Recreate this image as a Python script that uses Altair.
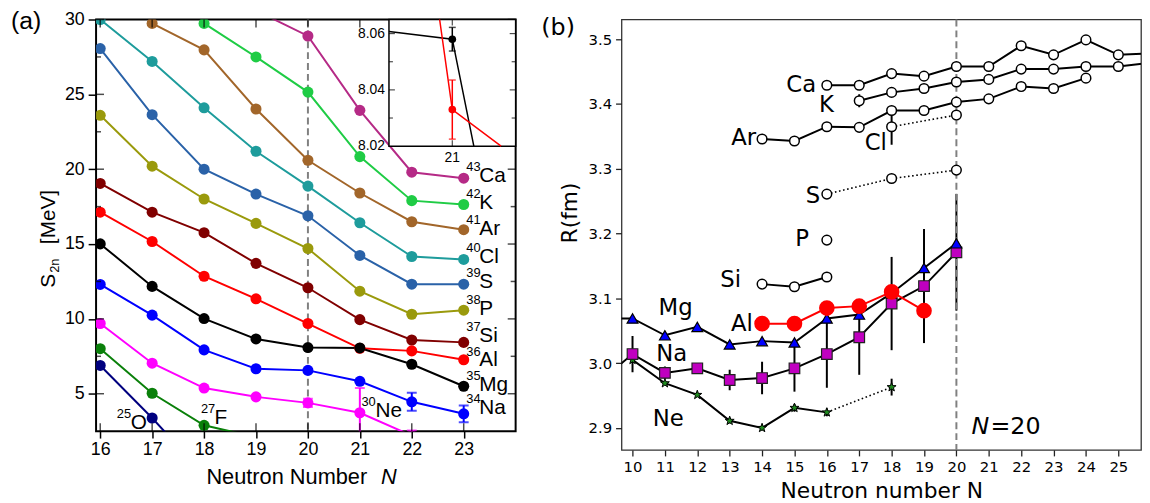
import altair as alt
import pandas as pd

# ================= Panel (a): S2n [MeV] vs neutron number =================
a_chains = ["Ca", "K", "Ar", "Cl", "S", "P", "Si", "Al", "Mg", "Na", "Ne", "F", "O"]
a_colors = ["#b52a86", "#1fcc45", "#a2662a", "#1e9c9c", "#2a62a8", "#9a9a0c",
            "#800000", "#ff0000", "#000000", "#0000ff", "#ff00ff", "#0a800a", "#00007f"]

ca_N = [19, 20, 21, 22, 23]
ca_S = [30.6, 28.9, 23.93, 19.8, 19.4]
k_N = [18, 19, 20, 21, 22, 23]
k_S = [29.74, 27.5, 25.15, 20.84, 17.9, 17.64]
ar_N = [17, 18, 19, 20, 21, 22, 23]
ar_S = [29.74, 27.97, 24.02, 20.6, 18.41, 16.49, 15.96]
cl_N = [16, 17, 18, 19, 20, 21, 22, 23]
cl_S = [30.0, 27.2, 24.1, 21.2, 18.87, 16.42, 14.17, 13.97]
s_N = [16, 17, 18, 19, 20, 21, 22, 23]
s_S = [28.06, 23.64, 20.0, 18.34, 16.89, 14.24, 12.32, 12.32]
p_N = [16, 17, 18, 19, 20, 21, 22, 23]
p_S = [23.6, 20.2, 18.01, 16.38, 14.7, 11.85, 10.31, 10.58]
si_N = [16, 17, 18, 19, 20, 21, 22, 23]
si_S = [19.05, 17.13, 15.76, 13.71, 12.08, 9.95, 8.59, 8.43]
al_N = [16, 17, 18, 19, 20, 21, 22, 23]
al_S = [17.13, 15.17, 12.85, 11.34, 9.69, 8.033, 7.863, 7.27]
mg_N = [16, 17, 18, 19, 20, 21, 22, 23]
mg_S = [15.01, 12.17, 10.02, 8.66, 8.085, 8.058, 6.97, 5.5]
na_N = [16, 17, 18, 19, 20, 21, 22, 23]
na_S = [12.3, 10.25, 7.93, 6.67, 6.56, 5.83, 4.46, 3.66]
na_err = [0, 0, 0, 0, 0, 0, 0.6, 0.56]
ne_N = [16, 17, 18, 19, 20, 21, 22]
ne_S = [9.69, 7.04, 5.38, 4.79, 4.39, 3.73, 2.2]
ne_err = [0, 0, 0, 0, 0.27, 1.65, 0.35]
f_N = [16, 17, 18, 19]
f_S = [8.01, 5.03, 2.89, 2.1]
o_N = [16, 17, 18]
o_S = [6.89, 3.38, -0.4]

a_series = {"Ca": (ca_N, ca_S), "K": (k_N, k_S), "Ar": (ar_N, ar_S), "Cl": (cl_N, cl_S),
            "S": (s_N, s_S), "P": (p_N, p_S), "Si": (si_N, si_S), "Al": (al_N, al_S),
            "Mg": (mg_N, mg_S), "Na": (na_N, na_S), "Ne": (ne_N, ne_S), "F": (f_N, f_S),
            "O": (o_N, o_S)}
a_errs = {"Na": na_err, "Ne": ne_err}

# labels (mass number superscript + element)
a_lab_mass = ["43", "42", "41", "40", "39", "38", "37", "36", "35", "34", "25", "27", "30"]
a_lab_el = ["Ca", "K", "Ar", "Cl", "S", "P", "Si", "Al", "Mg", "Na", "O", "F", "Ne"]
a_lab_xsup = [23.05] * 10 + [16.32, 17.94, 21.03]
a_lab_xel = [23.3] * 10 + [16.59, 18.2, 21.3]
a_lab_y = [19.54, 17.75, 16.03, 14.11, 12.45, 10.66, 8.87, 7.22, 5.56, 4.04, 3.05, 3.38, 3.84]

a_xticks = [16, 17, 18, 19, 20, 21, 22, 23]
a_yticks = [5, 10, 15, 20, 25, 30]
a_yminor = [7.5, 12.5, 17.5, 22.5, 27.5]
a_xdom = [15.92, 24.0]
a_ydom = [2.5, 30.0]

# inset (zoom around N = 21)
ins_mg_N = [20.9, 21.0, 21.034]
ins_mg_S = [8.0607, 8.058, 8.02]
ins_al_N = [20.98, 21.0, 21.077]
ins_al_S = [8.065, 8.033, 8.02]
ins_pt_series = ["Mg", "Al"]
ins_pt_N = [21.0, 21.0]
ins_pt_S = [8.058, 8.033]
ins_pt_err = [0.0042, 0.0105]
ins_xdom = [20.9, 21.1]
ins_ydom = [8.02, 8.065]
ins_yticks = [8.02, 8.04, 8.06]
ins_yminor = [8.03, 8.05]
ins_xticks = [21]

# ================= Panel (b): charge radii =================
b_ca_N = [16, 17, 18, 19, 20, 21, 22, 23, 24, 25, 26]
b_ca_R = [3.429, 3.429, 3.447, 3.443, 3.458, 3.458, 3.490, 3.476, 3.499, 3.476, 3.478]
b_k_N = [17, 18, 19, 20, 21, 22, 23, 24, 25, 26]
b_k_R = [3.405, 3.418, 3.424, 3.434, 3.438, 3.454, 3.454, 3.458, 3.458, 3.464]
b_k_err = [0.01, 0, 0, 0, 0, 0, 0, 0, 0, 0]
b_ar_N = [14, 15, 16, 17, 18, 19, 20, 21, 22, 23, 24]
b_ar_R = [3.346, 3.343, 3.365, 3.364, 3.390, 3.390, 3.403, 3.408, 3.427, 3.424, 3.440]
b_cl_N = [18, 20]
b_cl_R = [3.365, 3.383]
b_cl_err = [0.028, 0]
b_s_N = [16, 18, 20]
b_s_R = [3.261, 3.285, 3.298]
b_p_N = [16]
b_p_R = [3.19]
b_si_N = [14, 15, 16]
b_si_R = [3.122, 3.118, 3.133]
b_al_N = [14, 15, 16, 17, 18, 19]
b_al_R = [3.061, 3.061, 3.085, 3.088, 3.110, 3.081]
b_mg_N = [9, 10, 11, 12, 13, 14, 15, 16, 17, 18, 19, 20]
b_mg_R = [3.069, 3.069, 3.043, 3.056, 3.029, 3.034, 3.032, 3.069, 3.075, 3.108, 3.147, 3.185]
b_na_N = [9, 10, 11, 12, 13, 14, 15, 16, 17, 18, 19, 20]
b_na_R = [2.972, 3.014, 2.985, 2.992, 2.974, 2.977, 2.992, 3.014, 3.040, 3.092, 3.119, 3.171]
b_na_err = [0, 0.028, 0.01, 0, 0.016, 0.025, 0.036, 0.052, 0.058, 0.072, 0.088, 0.09]
b_ne_N = [10, 11, 12, 13, 14, 15, 16, 18]
b_ne_R = [3.005, 2.969, 2.951, 2.911, 2.900, 2.931, 2.924, 2.963]
b_ne_err = [0, 0, 0, 0.004, 0.004, 0.006, 0.006, 0.013]

b_lab_text = ["Ca", "K", "Ar", "Cl", "S", "P", "Si", "Al", "Mg", "Na", "Ne"]
b_lab_N = [15.21, 15.99, 13.43, 17.51, 15.57, 15.24, 13.03, 13.38, 11.33, 11.21, 11.10]
b_lab_R = [3.429, 3.398, 3.347, 3.340, 3.258, 3.191, 3.128, 3.061, 3.085, 3.014, 2.913]

b_xticks = list(range(10, 26))
b_yticks = [2.9, 3.0, 3.1, 3.2, 3.3, 3.4, 3.5]
b_xdom = [9.66, 25.7]
b_ydom = [2.866, 3.5305]

STAR = ("M0,-1 L0.235,-0.324 L0.951,-0.309 L0.380,0.124 L0.588,0.809 L0,0.4 "
        "L-0.588,0.809 L-0.380,0.124 L-0.951,-0.309 L-0.235,-0.324 Z")

# ---------------- build tables ----------------
rows = []
for ch, (ns, ss) in a_series.items():
    errs = a_errs.get(ch, [0] * len(ns))
    for n, s, e in zip(ns, ss, errs):
        rows.append({"chain": ch, "N": n, "S": s, "err": e, "lo": s - e, "hi": s + e})
a_df = pd.DataFrame(rows)
a_err_df = a_df[a_df["err"] > 0]
a_cap_df = pd.concat([
    a_err_df.assign(S=a_err_df["lo"]), a_err_df.assign(S=a_err_df["hi"])])
a_lab_df = pd.DataFrame({"mass": a_lab_mass, "el": a_lab_el, "xs": a_lab_xsup,
                         "xe": a_lab_xel, "S": a_lab_y})

FA = "Liberation Sans"
xa = alt.Scale(domain=a_xdom)
ya = alt.Scale(domain=a_ydom)
AXA_X = alt.Axis(values=a_xticks, format="d", title="Neutron Number", titleX=111, titleY=53,
                 titleAlign="left", titleBaseline="alphabetic", titleFont=FA, titleFontSize=22,
                 titleFontWeight="normal", titleColor="black", labelFont=FA, labelFontSize=18,
                 labelColor="black", labelFlush=False, labelPadding=3, tickColor="black",
                 tickSize=7, tickWidth=1.5, domain=False, grid=False)
AXA_Y = alt.Axis(values=a_yticks, format="d", title=None, labelFont=FA, labelFontSize=18,
                 labelColor="black", labelPadding=4, tickColor="black", tickSize=8,
                 tickWidth=1.5, domain=False, grid=False)
color_a = alt.Color("chain:N", scale=alt.Scale(domain=a_chains, range=a_colors), legend=None)


def XA(f="N"):
    return alt.X(f"{f}:Q", scale=xa, axis=AXA_X)


def YA(f="S"):
    return alt.Y(f"{f}:Q", scale=ya, axis=AXA_Y)


a_lines = alt.Chart(a_df).mark_line(strokeWidth=2, clip=True).encode(
    x=XA(), y=YA(), color=color_a, detail="chain:N")
a_dash = alt.Chart(pd.DataFrame({"N": [20]})).mark_rule(
    color="#808080", strokeWidth=2, strokeDash=[7, 4]).encode(x=XA())
a_erule = alt.Chart(a_err_df).mark_rule(strokeWidth=2, clip=True).encode(
    x=XA(), y=YA("lo"), y2="hi:Q", color=color_a)
a_caps = alt.Chart(a_cap_df).mark_tick(orient="horizontal", size=10, thickness=2, clip=True).encode(
    x=XA(), y=YA(), color=color_a)
a_pts = alt.Chart(a_df).mark_point(filled=True, size=125, opacity=1, clip=True).encode(
    x=XA(), y=YA(), color=color_a)
a_sup = alt.Chart(a_lab_df).mark_text(align="left", baseline="middle", font=FA, fontSize=13,
                                       dy=-9, color="black").encode(
    x=XA("xs"), y=YA(), text="mass:N")
a_el = alt.Chart(a_lab_df).mark_text(align="left", baseline="middle", font=FA, fontSize=21,
                                      color="black").encode(
    x=XA("xe"), y=YA(), text="el:N")


# inward ticks on the frame of panel (a)
def a_ticks(xs, ys, orient, size, xoff=0, yoff=0):
    df = pd.DataFrame({"N": xs, "S": ys})
    return alt.Chart(df).mark_tick(orient=orient, size=size, thickness=1.5, color="black",
                                   xOffset=xoff, yOffset=yoff).encode(x=XA(), y=YA())


a_tk = [
    a_ticks([a_xdom[0]] * len(a_yticks), a_yticks, "horizontal", 8, xoff=4),
    a_ticks([a_xdom[1]] * len(a_yticks), a_yticks, "horizontal", 8, xoff=-4),
    a_ticks([a_xdom[0]] * len(a_yminor), a_yminor, "horizontal", 5, xoff=2.5),
    a_ticks([a_xdom[1]] * len(a_yminor), a_yminor, "horizontal", 5, xoff=-2.5),
    a_ticks(a_xticks, [a_ydom[1]] * len(a_xticks), "vertical", 8, yoff=4),
    a_ticks(a_xticks, [a_ydom[0]] * len(a_xticks), "vertical", 8, yoff=-4),
]


def note(text, x, y, **kw):
    return alt.Chart(pd.DataFrame({"t": [text]})).mark_text(**kw).encode(
        x=alt.value(x), y=alt.value(y), text="t:N")


a_notes = [
    note("(a)", -86, 10, align="left", baseline="alphabetic", font=FA, fontSize=25, color="black"),
    note("S", -41, 271, angle=270, align="left", baseline="alphabetic", font=FA, fontSize=21, color="black"),
    note("2n", -37, 256, angle=270, align="left", baseline="alphabetic", font=FA, fontSize=13, color="black"),
    note("[MeV]", -41, 227, angle=270, align="left", baseline="alphabetic", font=FA, fontSize=21, color="black"),
    note("N", 288, 469, align="left", baseline="alphabetic", font=FA, fontSize=22,
         fontStyle="italic", color="black"),
]

a_main = alt.layer(a_lines, a_dash, a_erule, a_caps, a_pts, a_sup, a_el, *a_tk, *a_notes)

# ---------------- inset ----------------
xi = alt.Scale(domain=ins_xdom, range=[296, 424])
yi = alt.Scale(domain=ins_ydom, range=[128, 0])


def XI(f="N"):
    return alt.X(f"{f}:Q", scale=xi, axis=None)


def YI(f="S"):
    return alt.Y(f"{f}:Q", scale=yi, axis=None)


ins_frame_df = pd.DataFrame({"N": [ins_xdom[0]], "N2": [ins_xdom[1]],
                             "S": [ins_ydom[0]], "S2": [ins_ydom[1]]})
ins_frame = alt.Chart(ins_frame_df).mark_rect(fill="white", stroke="black", strokeWidth=1.5).encode(
    x=XI(), x2="N2:Q", y=YI(), y2="S2:Q")
ins_mg = alt.Chart(pd.DataFrame({"N": ins_mg_N, "S": ins_mg_S})).mark_line(
    color="black", strokeWidth=1.5).encode(x=XI(), y=YI())
ins_al = alt.Chart(pd.DataFrame({"N": ins_al_N, "S": ins_al_S})).mark_line(
    color="red", strokeWidth=1.5).encode(x=XI(), y=YI())
ins_pdf = pd.DataFrame({"series": ins_pt_series, "N": ins_pt_N, "S": ins_pt_S, "err": ins_pt_err})
ins_pdf["lo"] = ins_pdf["S"] - ins_pdf["err"]
ins_pdf["hi"] = ins_pdf["S"] + ins_pdf["err"]
color_i = alt.Color("series:N", scale=alt.Scale(domain=["Mg", "Al"], range=["black", "red"]),
                    legend=None)
ins_rule = alt.Chart(ins_pdf).mark_rule(strokeWidth=1.5).encode(
    x=XI(), y=YI("lo"), y2="hi:Q", color=color_i)
ins_cap_df = pd.concat([ins_pdf.assign(S=ins_pdf["lo"]), ins_pdf.assign(S=ins_pdf["hi"])])
ins_caps = alt.Chart(ins_cap_df).mark_tick(orient="horizontal", size=7, thickness=1.5).encode(
    x=XI(), y=YI(), color=color_i)
ins_pts = alt.Chart(ins_pdf).mark_point(filled=True, size=60, opacity=1).encode(
    x=XI(), y=YI(), color=color_i)


def i_ticks(xs, ys, orient, size, xoff=0, yoff=0):
    df = pd.DataFrame({"N": xs, "S": ys})
    return alt.Chart(df).mark_tick(orient=orient, size=size, thickness=1.2, color="black",
                                   xOffset=xoff, yOffset=yoff).encode(x=XI(), y=YI())


ins_tk = [
    i_ticks([ins_xdom[0]] * 2, ins_yticks[1:], "horizontal", 6, xoff=3),
    i_ticks([ins_xdom[1]] * 2, ins_yticks[1:], "horizontal", 6, xoff=-3),
    i_ticks([ins_xdom[0]] * 2, ins_yminor, "horizontal", 4, xoff=2),
    i_ticks([ins_xdom[1]] * 2, ins_yminor, "horizontal", 4, xoff=-2),
    i_ticks(ins_xticks, [ins_ydom[0]], "vertical", 6, yoff=-3),
    i_ticks(ins_xticks, [ins_ydom[1]], "vertical", 6, yoff=3),
]
ins_ylab = alt.Chart(pd.DataFrame({"N": [ins_xdom[0]] * 3, "S": ins_yticks,
                                   "t": [f"{v:.2f}" for v in ins_yticks]})).mark_text(
    align="right", baseline="middle", dx=-4, font=FA, fontSize=14, color="black").encode(
    x=XI(), y=YI(), text="t:N")
ins_xlab = alt.Chart(pd.DataFrame({"N": ins_xticks, "S": [ins_ydom[0]],
                                   "t": [str(v) for v in ins_xticks]})).mark_text(
    align="center", baseline="top", dy=5, font=FA, fontSize=14, color="black").encode(
    x=XI(), y=YI(), text="t:N")

a_inset = alt.layer(ins_frame, ins_mg, ins_al, ins_rule, ins_caps, ins_pts, *ins_tk,
                    ins_ylab, ins_xlab)

panel_a = alt.layer(a_main, a_inset).resolve_scale(x="independent", y="independent").properties(
    width=424, height=416, view=alt.ViewBackground(stroke="black", strokeWidth=2, fill="white"))

# ================= Panel (b) =================
FB = "DejaVu Sans"
xb = alt.Scale(domain=b_xdom)
yb = alt.Scale(domain=b_ydom)
AXB_X = alt.Axis(values=b_xticks, format="d", title="Neutron number N", titleY=48,
                 titleBaseline="alphabetic", titleFont=FB, titleFontSize=22,
                 titleFontWeight="normal", titleColor="black", labelFont=FB, labelFontSize=15,
                 labelColor="black", labelFlush=False, labelPadding=4, tickColor="#222",
                 tickSize=6, tickWidth=1.3, domain=False, grid=False)
AXB_Y = alt.Axis(values=b_yticks, format=".1f", title="R(fm)", titleX=-45, titleY=195,
                 titleAngle=270, titleAlign="center", titleBaseline="alphabetic", titleFont=FB,
                 titleFontSize=22, titleFontWeight="normal", titleColor="black", labelFont=FB,
                 labelFontSize=15, labelColor="black", labelPadding=4, tickColor="#222",
                 tickSize=6, tickWidth=1.3, domain=False, grid=False)


def XB(f="N"):
    return alt.X(f"{f}:Q", scale=xb, axis=AXB_X)


def YB(f="R"):
    return alt.Y(f"{f}:Q", scale=yb, axis=AXB_Y)


def sdf(name, ns, rs, errs=None):
    errs = errs if errs is not None else [0] * len(ns)
    return pd.DataFrame({"series": name, "N": ns, "R": rs, "err": errs})


solid_df = pd.concat([
    sdf("Ca", b_ca_N, b_ca_R), sdf("K", b_k_N, b_k_R), sdf("Ar", b_ar_N, b_ar_R),
    sdf("Si", b_si_N, b_si_R), sdf("Mg", b_mg_N, b_mg_R), sdf("Na", b_na_N, b_na_R),
    sdf("Ne", b_ne_N[:-1], b_ne_R[:-1])])
dotted_df = pd.concat([
    sdf("Cl", b_cl_N, b_cl_R), sdf("S", b_s_N, b_s_R), sdf("Ne", b_ne_N[-2:], b_ne_R[-2:])])
al_df = sdf("Al", b_al_N, b_al_R)
open_df = pd.concat([
    sdf("Ca", b_ca_N, b_ca_R), sdf("K", b_k_N, b_k_R, b_k_err), sdf("Ar", b_ar_N, b_ar_R),
    sdf("Cl", b_cl_N, b_cl_R, b_cl_err), sdf("S", b_s_N, b_s_R), sdf("P", b_p_N, b_p_R),
    sdf("Si", b_si_N, b_si_R)])
na_df = sdf("Na", b_na_N, b_na_R, b_na_err)
ne_df = sdf("Ne", b_ne_N, b_ne_R, b_ne_err)
mg_df = sdf("Mg", b_mg_N, b_mg_R)
all_b = pd.concat([open_df, na_df, ne_df, mg_df, al_df])
berr_df = all_b[all_b["err"] > 0].copy()
berr_df["lo"] = berr_df["R"] - berr_df["err"]
berr_df["hi"] = berr_df["R"] + berr_df["err"]

b_solid = alt.Chart(solid_df).mark_line(color="black", strokeWidth=2, clip=True).encode(
    x=XB(), y=YB(), detail="series:N")
b_dotted = alt.Chart(dotted_df).mark_line(color="black", strokeWidth=1.6, strokeDash=[1.6, 2.6],
                                          clip=True).encode(x=XB(), y=YB(), detail="series:N")
b_alline = alt.Chart(al_df).mark_line(color="#ff0000", strokeWidth=2, clip=True).encode(
    x=XB(), y=YB())
b_err = alt.Chart(berr_df).mark_rule(color="black", strokeWidth=2, clip=True).encode(
    x=XB(), y=YB("lo"), y2="hi:Q")
b_dash = alt.Chart(pd.DataFrame({"N": [20]})).mark_rule(
    color="#808080", strokeWidth=2, strokeDash=[7, 4]).encode(x=XB())
b_open = alt.Chart(open_df).mark_point(shape="circle", filled=True, fill="white", stroke="black",
                                       strokeWidth=1.5, size=95, opacity=1, clip=True).encode(
    x=XB(), y=YB())
b_ne = alt.Chart(ne_df).mark_point(shape=STAR, filled=True, fill="#1f8a1f", stroke="black",
                                   strokeWidth=1, size=90, opacity=1, clip=True).encode(
    x=XB(), y=YB())
b_na = alt.Chart(na_df).mark_point(shape="square", filled=True, fill="#c000c0", stroke="#222",
                                   strokeWidth=1.2, size=115, opacity=1, clip=True).encode(
    x=XB(), y=YB())
b_mg = alt.Chart(mg_df).mark_point(shape="triangle-up", filled=True, fill="#0000ff", stroke="black",
                                   strokeWidth=1.2, size=120, opacity=1, clip=True).encode(
    x=XB(), y=YB())
b_al = alt.Chart(al_df).mark_point(shape="circle", filled=True, fill="#ff0000", stroke="#ff0000",
                                   size=190, opacity=1, clip=True).encode(x=XB(), y=YB())
b_labels = alt.Chart(pd.DataFrame({"t": b_lab_text, "N": b_lab_N, "R": b_lab_R})).mark_text(
    align="center", baseline="middle", font=FB, fontSize=23, color="black").encode(
    x=XB(), y=YB(), text="t:N")
b_n20a = alt.Chart(pd.DataFrame({"N": [20.47], "R": [2.902], "t": ["N"]})).mark_text(
    align="left", baseline="middle", font=FB, fontSize=24, fontStyle="italic", color="black").encode(
    x=XB(), y=YB(), text="t:N")
b_n20b = alt.Chart(pd.DataFrame({"N": [20.47], "R": [2.902], "t": ["=20"]})).mark_text(
    align="left", baseline="middle", dx=19, font=FB, fontSize=24, color="black").encode(
    x=XB(), y=YB(), text="t:N")
b_tag = note("(b)", -81, 16, align="left", baseline="alphabetic", font=FB, fontSize=24,
             color="black")

panel_b = alt.layer(b_solid, b_dotted, b_alline, b_err, b_dash, b_open, b_ne, b_na, b_mg, b_al,
                    b_labels, b_n20a, b_n20b, b_tag).properties(
    width=525, height=435, view=alt.ViewBackground(stroke="#333333", strokeWidth=1.3, fill="white"))

chart = alt.hconcat(panel_a, panel_b, spacing=23).properties(
    padding={"left": 2, "top": -2, "right": 0, "bottom": 0}, background="white")

chart.save("out.html", embed_options={"renderer": "svg", "actions": False})
